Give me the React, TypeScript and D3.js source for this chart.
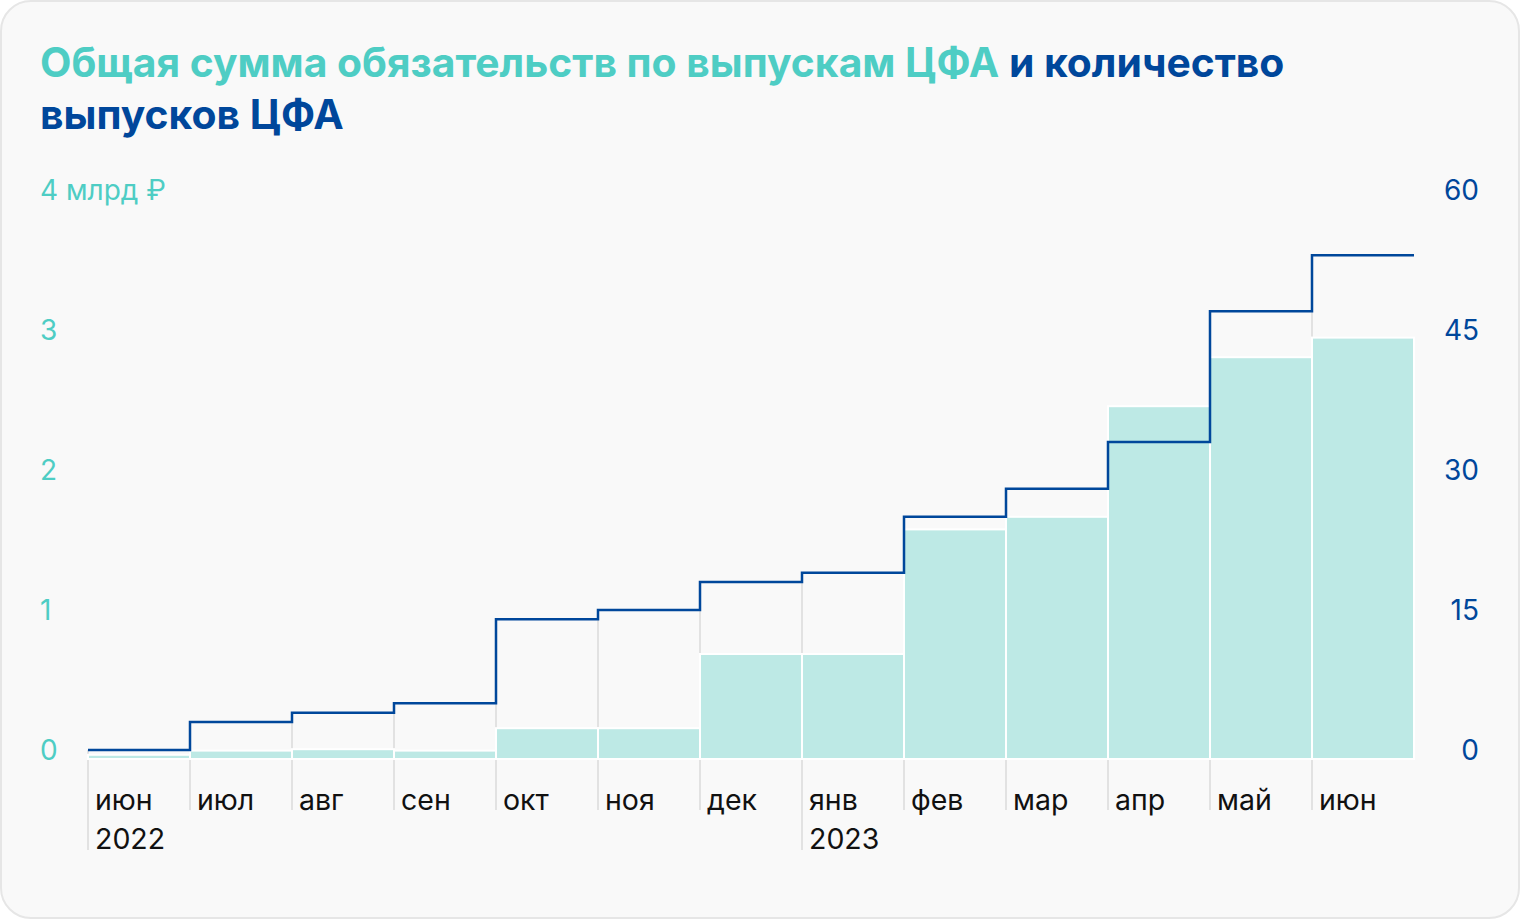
import React from "react";
import * as d3 from "d3";

const months = ["июн", "июл", "авг", "сен", "окт", "ноя", "дек", "янв", "фев", "мар", "апр", "май", "июн"];
const yearLabels = ["2022", "", "", "", "", "", "", "2023", "", "", "", "", ""];
const amountBn = [0.03, 0.06, 0.07, 0.06, 0.22, 0.22, 0.75, 0.75, 1.64, 1.73, 2.52, 2.87, 3.01];
const issueCount = [0, 3, 4, 5, 14, 15, 18, 19, 25, 28, 33, 47, 53];
const leftTicks = [0, 1, 2, 3, 4];
const rightTicks = [0, 15, 30, 45, 60];

const W = 1520;
const H = 920;
const TEAL = "#4ecdc4";
const BLUE = "#00479b";
const BAR = "#bde9e5";
const GRID = "#e2e2e2";
const FONT = "Inter, Roboto, sans-serif";

export default function App() {
  const x = d3.scaleBand<string>().domain(months.map((_, i) => String(i))).range([88, 1414]).paddingInner(0).paddingOuter(0);
  const bw = x.bandwidth();
  const yL = d3.scaleLinear().domain([0, 4]).range([750, 190]);
  const yR = d3.scaleLinear().domain([0, 60]).range([750, 190]);
  const yBar = d3.scaleLinear().domain([0, 4]).range([759, 199]);

  const stepPts: [number, number][] = issueCount.map((c, i) => [x(String(i))!, yR(c)]);
  stepPts.push([x(String(issueCount.length - 1))! + bw, yR(issueCount[issueCount.length - 1])]);
  const stepPath = d3.line().curve(d3.curveStepAfter)(stepPts) || "";

  return (
    <div style={{ position: "absolute", left: 0, top: 0 }}>
      <svg width={W} height={H} style={{ display: "block" }} fontFamily={FONT}>
        <rect x={0} y={0} width={W} height={H} fill="#ffffff" />
        <rect x={1} y={1} width={W - 2} height={H - 3} rx={30} fill="#f9f9f9" stroke="#e6e6e6" strokeWidth={2} />
        <text x={40} y={77} fontSize={40.8} fontWeight={700}>
          <tspan fill={TEAL}>Общая сумма обязательств по выпускам ЦФА</tspan>
          <tspan fill={BLUE}> и количество</tspan>
        </text>
        <text x={40} y={129} fontSize={40.8} fontWeight={700} fill={BLUE}>
          выпусков ЦФА
        </text>

        {leftTicks.map((t) => (
          <text key={"l" + t} x={40} y={yL(t)} dy="0.35em" fontSize={28} fill={TEAL}>
            {t === 4 ? "4 млрд ₽" : String(t)}
          </text>
        ))}
        {rightTicks.map((t) => (
          <text key={"r" + t} x={1479} y={yR(t)} dy="0.35em" fontSize={28} fill={BLUE} textAnchor="end">
            {String(t)}
          </text>
        ))}

        {months.map((_, i) => {
          const x0 = x(String(i))!;
          const top = i === 0 ? yR(0) : yR(issueCount[i - 1]);
          const bottom = yearLabels[i] ? 850 : 810;
          return <line key={"g" + i} x1={x0} x2={x0} y1={top} y2={bottom} stroke={GRID} strokeWidth={2} />;
        })}

        {amountBn.map((v, i) => (
          <rect
            key={"b" + i}
            x={x(String(i))!}
            y={yBar(v)}
            width={bw}
            height={yBar(0) - yBar(v)}
            fill={BAR}
            stroke="#ffffff"
            strokeWidth={2}
          />
        ))}

        <path d={stepPath} fill="none" stroke={BLUE} strokeWidth={2.5} />

        {months.map((m, i) => (
          <text key={"m" + i} x={x(String(i))! + 7} y={810} fontSize={28.5} fill="#111">
            {m}
          </text>
        ))}
        {yearLabels.map((yl, i) =>
          yl ? (
            <text key={"y" + i} x={x(String(i))! + 7} y={849} fontSize={28.5} fill="#111">
              {yl}
            </text>
          ) : null
        )}
      </svg>
    </div>
  );
}
